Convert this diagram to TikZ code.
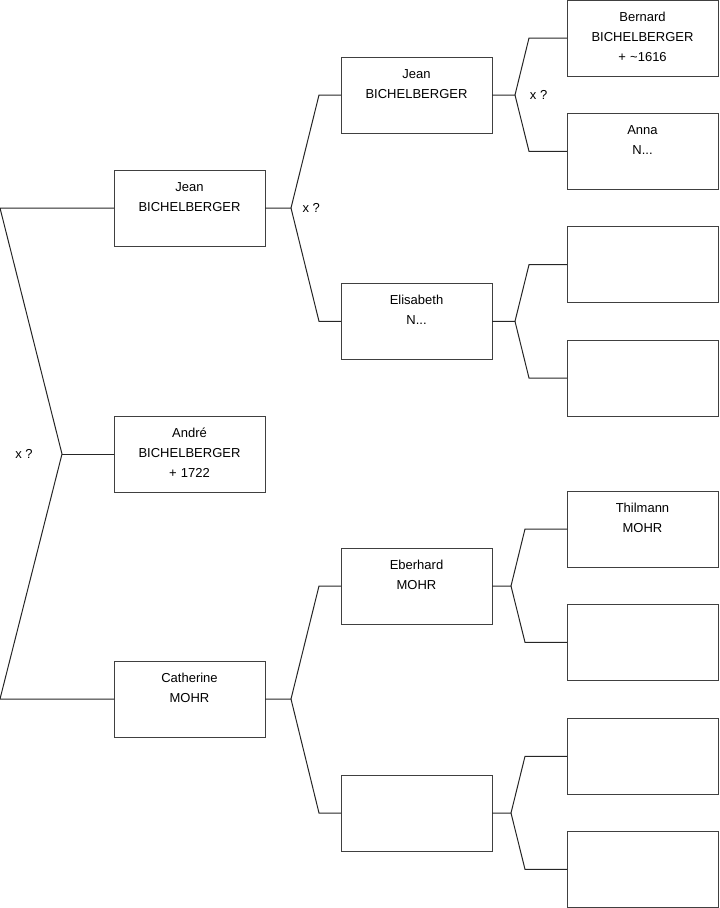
\documentclass[tikz,border=0pt]{standalone}
\usepackage{fontspec}
\setmainfont{Liberation Sans}
\usetikzlibrary{positioning}

\begin{document}
\begin{tikzpicture}[x=0.75pt,y=-0.75pt,node distance=57pt,
   every node/.style={font=\fontsize{9.75pt}{15pt}\selectfont},
   person/.style={draw=black!75,line width=0.75pt,inner sep=0pt,outer sep=0pt,align=center,
     text width=113.25pt,text height=15.75pt,text depth=41.25pt},
   link/.style={draw=black!85,line width=0.75pt},
   union/.style={inner sep=0pt}]
\useasboundingbox (0,0) rectangle (719,908);
% generation 1
\node[person,anchor=north west] (jean1) at (114,170) {Jean\\BICHELBERGER};
\node[person,below=127.5pt of jean1] (andre) {André\\BICHELBERGER\\+ 1722};
\node[person,below=126.75pt of andre] (cath) {Catherine\\MOHR};
% generation 2
\node[person,right=57pt of jean1,yshift=84.75pt] (jean2) {Jean\\BICHELBERGER};
\node[person,right=57pt of jean1,yshift=-85pt] (elis) {Elisabeth\\N...};
\node[person,right=57pt of cath,yshift=84.75pt] (eber) {Eberhard\\MOHR};
\node[person,right=57pt of cath,yshift=-85.5pt] (cath2) {};
% generation 3
\node[person,right=56.25pt of jean2,yshift=42.75pt] (bernard) {Bernard\\BICHELBERGER\\+ \textasciitilde1616};
\node[person,right=56.25pt of jean2,yshift=-42.25pt] (anna) {Anna\\N...};
\node[person,right=56.25pt of elis,yshift=42.5pt] (elisf) {};
\node[person,right=56.25pt of elis,yshift=-42.5pt] (elism) {};
\node[person,right=56.25pt of eber,yshift=42.75pt] (thilmann) {Thilmann\\MOHR};
\node[person,right=56.25pt of eber,yshift=-42.25pt] (eberm) {};
\node[person,right=56.25pt of cath2,yshift=42.5pt] (cath2f) {};
\node[person,right=56.25pt of cath2,yshift=-42.25pt] (cath2m) {};
% root fork
\coordinate[left=39pt of andre.west] (root);
\draw[link] (jean1.west) -- ++(-85.5pt,0) -- (root) -- ([xshift=-85.5pt]cath.west) -- (cath.west);
\draw[link] (root) -- (andre.west);
\node[union,left=21.75pt of root] (x0) {x ?};
% parents of Jean and Catherine
\draw[link] (jean1.east) -- ++(19.5pt,0) coordinate (f1) -- ([xshift=-16.5pt]jean2.west) -- (jean2.west);
\draw[link] (f1) -- ([xshift=-16.5pt]elis.west) -- (elis.west);
\node[union,right=8.5pt of f1] (x1) {x ?};
\draw[link] (cath.east) -- ++(19.5pt,0) coordinate (f2) -- ([xshift=-16.5pt]eber.west) -- (eber.west);
\draw[link] (f2) -- ([xshift=-16.5pt]cath2.west) -- (cath2.west);
% grandparents
\draw[link] (jean2.east) -- ++(17.25pt,0) coordinate (f3) -- ([xshift=-28.5pt]bernard.west) -- (bernard.west);
\draw[link] (f3) -- ([xshift=-28.5pt]anna.west) -- (anna.west);
\node[union,right=11pt of f3] (x3) {x ?};
\draw[link] (elis.east) -- ++(17.25pt,0) coordinate (f4) -- ([xshift=-28.5pt]elisf.west) -- (elisf.west);
\draw[link] (f4) -- ([xshift=-28.5pt]elism.west) -- (elism.west);
\draw[link] (eber.east) -- ++(14.25pt,0) coordinate (f5) -- ([xshift=-31.5pt]thilmann.west) -- (thilmann.west);
\draw[link] (f5) -- ([xshift=-31.5pt]eberm.west) -- (eberm.west);
\draw[link] (cath2.east) -- ++(14.25pt,0) coordinate (f6) -- ([xshift=-31.5pt]cath2f.west) -- (cath2f.west);
\draw[link] (f6) -- ([xshift=-31.5pt]cath2m.west) -- (cath2m.west);
\end{tikzpicture}
\end{document}
